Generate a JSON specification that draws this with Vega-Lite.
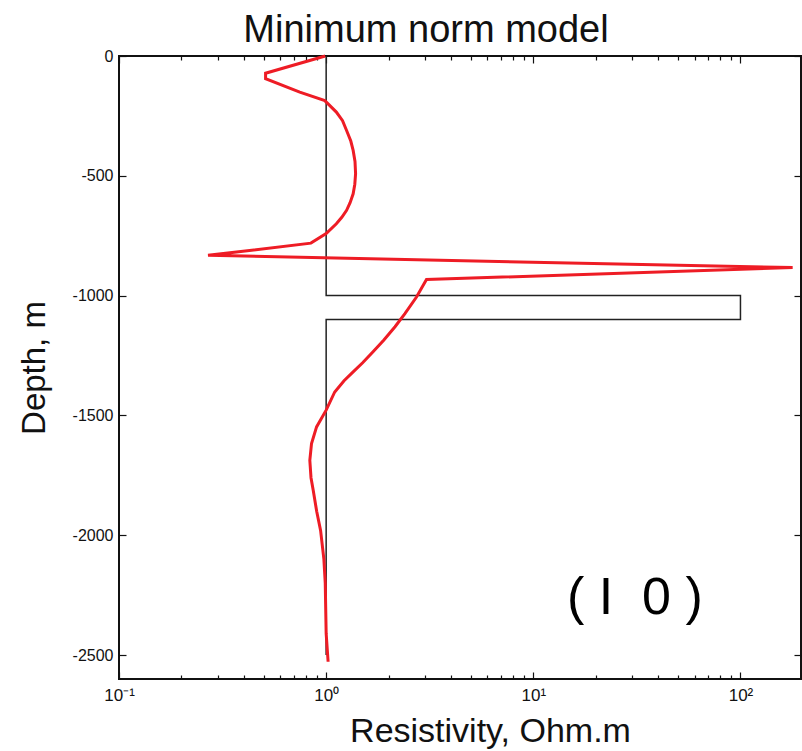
{
  "$schema": "https://vega.github.io/schema/vega-lite/v6.json",
  "autosize": "none",
  "padding": {"left": 119, "top": 56, "right": 1, "bottom": 72},
  "width": 682,
  "height": 623,
  "background": "white",
  "config": {
    "view": {"stroke": "#111111", "strokeWidth": 2},
    "font": "Liberation Sans"
  },
  "title": {
    "text": "Minimum norm model",
    "fontSize": 38,
    "fontWeight": "normal",
    "font": "Liberation Sans",
    "color": "#111111",
    "baseline": "alphabetic",
    "offset": 11,
    "dy": 43,
    "dx": -34,
    "anchor": "middle"
  },
  "layer": [
    {
      "data": {
        "values": [
          {"i": 0, "r": 1, "d": 0},
          {"i": 1, "r": 1, "d": -1000},
          {"i": 2, "r": 100, "d": -1000},
          {"i": 3, "r": 100, "d": -1100},
          {"i": 4, "r": 1, "d": -1100},
          {"i": 5, "r": 1, "d": -2500}
        ]
      },
      "mark": {"type": "line", "color": "#222222", "strokeWidth": 1.5},
      "encoding": {
        "x": {
          "field": "r",
          "type": "quantitative",
          "scale": {"type": "log", "domain": [0.1, 196], "nice": false},
          "axis": {
            "orient": "bottom",
            "values": [0.1, 0.2, 0.3, 0.4, 0.5, 0.6, 0.7, 0.8, 0.9, 1, 2, 3, 4, 5, 6, 7, 8, 9, 10, 20, 30, 40, 50, 60, 70, 80, 90, 100],
            "labelExpr": "datum.value == 0.1 ? '10⁻¹' : datum.value == 1 ? '10⁰' : datum.value == 10 ? '10¹' : datum.value == 100 ? '10²' : ''",
            "tickSize": {"condition": {"test": "indexof([0.1, 1, 10, 100], datum.value) >= 0", "value": -7}, "value": -4},
            "tickColor": "#111111",
            "tickWidth": 1.2,
            "domain": false,
            "grid": false,
            "labelOverlap": false,
            "labelFlush": false,
            "labelPadding": 15,
            "labelFontSize": 17,
            "labelColor": "#111111",
            "labelFont": "Liberation Sans",
            "title": "Resistivity, Ohm.m",
            "titleFontSize": 34,
            "titleFontWeight": "normal",
            "titleFont": "Liberation Sans",
            "titleColor": "#111111",
            "titlePadding": 8,
            "titleX": 371,
            "titleAlign": "center"
          }
        },
        "y": {
          "field": "d",
          "type": "quantitative",
          "scale": {"domain": [-2600, 0], "nice": false, "zero": false},
          "axis": {
            "orient": "left",
            "values": [-2500, -2000, -1500, -1000, -500, 0],
            "labelExpr": "'' + datum.value",
            "tickSize": -7,
            "tickColor": "#111111",
            "tickWidth": 1.2,
            "domain": false,
            "grid": false,
            "labelPadding": 13,
            "labelFontSize": 16,
            "labelColor": "#111111",
            "labelFont": "Liberation Sans",
            "labelOverlap": false,
            "title": "Depth, m",
            "titleFontSize": 33,
            "titleFontWeight": "normal",
            "titleFont": "Liberation Sans",
            "titleColor": "#111111",
            "titlePadding": 21
          }
        },
        "order": {"field": "i", "type": "quantitative"}
      }
    },
    {
      "data": {
        "values": [
          {"i": 0, "r": 0.99, "d": 0},
          {"i": 1, "r": 0.51, "d": -72},
          {"i": 2, "r": 0.51, "d": -95},
          {"i": 3, "r": 0.746, "d": -151},
          {"i": 4, "r": 0.985, "d": -186},
          {"i": 5, "r": 1.12, "d": -234},
          {"i": 6, "r": 1.2, "d": -270},
          {"i": 7, "r": 1.255, "d": -311},
          {"i": 8, "r": 1.315, "d": -355},
          {"i": 9, "r": 1.35, "d": -394},
          {"i": 10, "r": 1.378, "d": -440},
          {"i": 11, "r": 1.387, "d": -491},
          {"i": 12, "r": 1.375, "d": -535},
          {"i": 13, "r": 1.35, "d": -575},
          {"i": 14, "r": 1.305, "d": -612},
          {"i": 15, "r": 1.255, "d": -644},
          {"i": 16, "r": 1.19, "d": -673},
          {"i": 17, "r": 1.12, "d": -700},
          {"i": 18, "r": 1.0, "d": -741},
          {"i": 19, "r": 0.844, "d": -781},
          {"i": 20, "r": 0.269, "d": -832},
          {"i": 21, "r": 178.6, "d": -883},
          {"i": 22, "r": 3.05, "d": -933},
          {"i": 23, "r": 2.73, "d": -1006},
          {"i": 24, "r": 2.4, "d": -1075},
          {"i": 25, "r": 2.15, "d": -1130},
          {"i": 26, "r": 1.9, "d": -1185},
          {"i": 27, "r": 1.68, "d": -1235},
          {"i": 28, "r": 1.5, "d": -1280},
          {"i": 29, "r": 1.35, "d": -1318},
          {"i": 30, "r": 1.22, "d": -1355},
          {"i": 31, "r": 1.1, "d": -1402},
          {"i": 32, "r": 1.0, "d": -1478},
          {"i": 33, "r": 0.899, "d": -1548},
          {"i": 34, "r": 0.85, "d": -1617},
          {"i": 35, "r": 0.834, "d": -1687},
          {"i": 36, "r": 0.845, "d": -1760},
          {"i": 37, "r": 0.866, "d": -1812},
          {"i": 38, "r": 0.9, "d": -1900},
          {"i": 39, "r": 0.94, "d": -1980},
          {"i": 40, "r": 0.975, "d": -2100},
          {"i": 41, "r": 0.99, "d": -2200},
          {"i": 42, "r": 1.0, "d": -2410},
          {"i": 43, "r": 1.022, "d": -2528}
        ]
      },
      "mark": {"type": "line", "color": "#ee1c25", "strokeWidth": 3, "strokeJoin": "miter", "interpolate": "linear"},
      "encoding": {
        "x": {
          "field": "r",
          "type": "quantitative",
          "axis": {
            "orient": "top",
            "values": [0.1, 0.2, 0.3, 0.4, 0.5, 0.6, 0.7, 0.8, 0.9, 1, 2, 3, 4, 5, 6, 7, 8, 9, 10, 20, 30, 40, 50, 60, 70, 80, 90, 100],
            "tickSize": {"condition": {"test": "indexof([0.1, 1, 10, 100], datum.value) >= 0", "value": -7}, "value": -4},
            "tickColor": "#111111",
            "tickWidth": 1.2,
            "labels": false,
            "domain": false,
            "grid": false,
            "title": null
          }
        },
        "y": {
          "field": "d",
          "type": "quantitative",
          "axis": {
            "orient": "right",
            "values": [-2500, -2000, -1500, -1000, -500, 0],
            "tickSize": -7,
            "tickColor": "#111111",
            "tickWidth": 1.2,
            "labels": false,
            "domain": false,
            "grid": false,
            "title": null
          }
        },
        "order": {"field": "i", "type": "quantitative"}
      }
    },
    {
      "data": {"values": [{"r": 30.9, "d": -2262, "label": "(\u00a0I\u00a0\u00a00\u00a0)"}]},
      "mark": {"type": "text", "fontSize": 52, "font": "Liberation Sans", "align": "center", "baseline": "middle", "color": "#000000"},
      "encoding": {
        "x": {"field": "r", "type": "quantitative", "axis": null},
        "y": {"field": "d", "type": "quantitative", "axis": null},
        "text": {"field": "label"}
      }
    }
  ],
  "resolve": {"axis": {"x": "independent", "y": "independent"}}
}
